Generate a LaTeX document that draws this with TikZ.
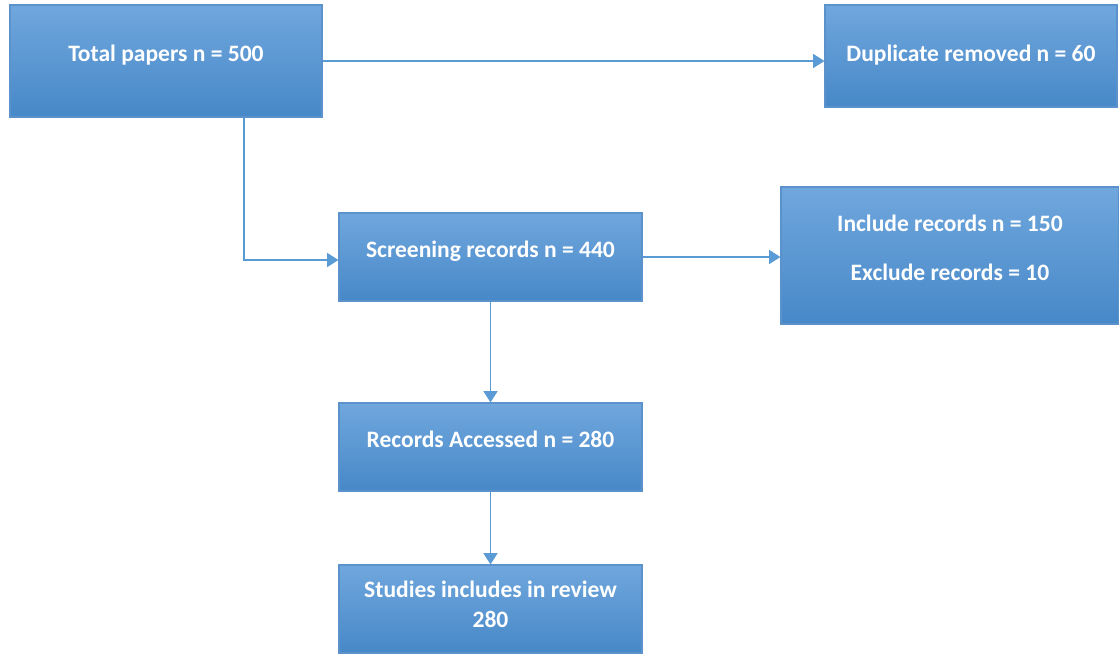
\documentclass[tikz,border=0pt]{standalone}
\usepackage{fontspec}
\setmainfont{Carlito}
\usepackage{xcolor}
\usetikzlibrary{positioning, arrows.meta, calc}

\definecolor{boxtop}{HTML}{70A7DD}
\definecolor{boxbot}{HTML}{4788C8}
\definecolor{boxedge}{HTML}{5B92CC}
\definecolor{linkblue}{HTML}{5B9BD5}

\begin{document}
\begin{tikzpicture}[
  x=0.02cm, y=-0.02cm,
  flowbox/.style={
    rectangle, draw=boxedge, line width=0.6pt,
    top color=boxtop, bottom color=boxbot,
    align=center, text=white,
    font=\fontsize{13.4}{17}\selectfont\bfseries,
    text depth=9pt, inner sep=0pt,
  },
  arrow/.style={-{Triangle[width=8pt,length=6.5pt]}, line width=0.9pt, linkblue},
]
\useasboundingbox (0,0) rectangle (1119,654);

\node[flowbox, minimum width=312*0.02cm, minimum height=112*0.02cm] (total) at (166,61)
  {Total papers n = 500};
\node[flowbox, minimum width=292*0.02cm, minimum height=102*0.02cm, text depth=3pt] (dup) at (971,56)
  {Duplicate removed n = 60};
\node[flowbox, minimum width=303*0.02cm, minimum height=88*0.02cm] (screen) at (490.5,257)
  {Screening records n = 440};
\node[flowbox, minimum width=338*0.02cm, minimum height=137*0.02cm] (incl) at (950,255.5)
  {Include records n = 150\\[11pt] Exclude records = 10};
\node[flowbox, minimum width=303*0.02cm, minimum height=88*0.02cm, text depth=5pt] (studies) at (490.5,609)
  {Studies includes in review\\ 280};
\node[flowbox, minimum width=303*0.02cm, minimum height=88*0.02cm] (access) at (490.5,447)
  {Records Accessed n = 280};

\draw[arrow] (total.east) -- (total.east -| dup.west);
\draw[arrow] ($(total.south)+(78,0)$) |- ($(screen.west)+(0,3)$);
\draw[arrow] (screen.east) -- (screen.east -| incl.west);
\draw[arrow] (screen.south) -- (access.north);
\draw[arrow] (access.south) -- (studies.north);
\end{tikzpicture}
\end{document}
